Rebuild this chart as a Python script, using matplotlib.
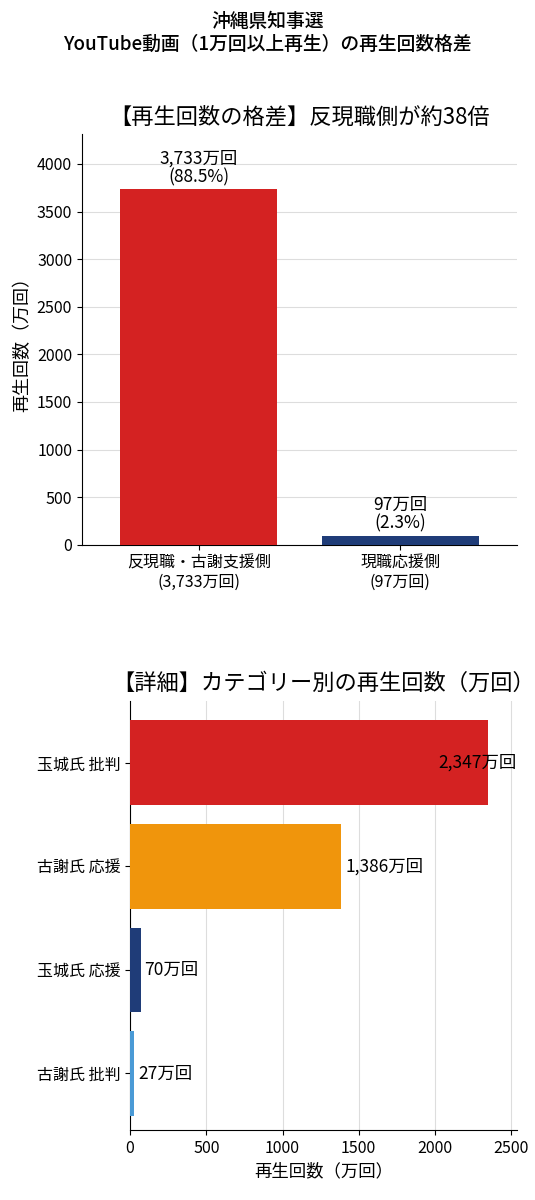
import matplotlib.pyplot as plt

plt.rcParams['font.family'] = ['Noto Sans CJK JP', 'DejaVu Sans']

# 上段データ
top_labels = ['反現職・古謝支援側\n(3,733万回)', '現職応援側\n(97万回)']
top_values = [3733, 97]
top_text = ['3,733万回\n(88.5%)', '97万回\n(2.3%)']
top_colors = ['#d42222', '#1f3c78']

# 下段データ
cat_labels = ['玉城氏 批判', '古謝氏 応援', '玉城氏 応援', '古謝氏 批判']
cat_values = [2347, 1386, 70, 27]
cat_text = ['2,347万回', '1,386万回', '70万回', '27万回']
cat_colors = ['#d42222', '#f0950c', '#1f3c78', '#4a9ad6']

fig = plt.figure(figsize=(5.35, 12), dpi=100)
fig.text(0.5, 0.99, '沖縄県知事選\nYouTube動画（1万回以上再生）の再生回数格差',
         ha='center', va='top', fontsize=13.5, linespacing=1.25, weight='medium')

ax1 = fig.add_axes([0.153, 0.546, 0.814, 0.342])
ax1.bar([0, 1], top_values, width=0.78, color=top_colors, zorder=3)
for i, (v, t) in enumerate(zip(top_values, top_text)):
    ax1.text(i, v + 30, t, ha='center', va='bottom', fontsize=12.5, linespacing=1.05)
ax1.set_ylim(0, 4310)
ax1.set_xlim(-0.58, 1.58)
ax1.set_yticks(range(0, 4001, 500))
ax1.set_xticks([0, 1])
ax1.set_xticklabels(top_labels, fontsize=13.5, linespacing=1.15)
ax1.set_ylabel('再生回数（万回）', fontsize=13)
ax1.grid(axis='y', color='#dddddd', zorder=0)
ax1.set_title('【再生回数の格差】反現職側が約38倍', fontsize=16, pad=8)
ax1.tick_params(labelsize=11.5)

ax2 = fig.add_axes([0.243, 0.058, 0.724, 0.358])
y = list(range(len(cat_values)))[::-1]
ax2.barh(y, cat_values, height=0.82, color=cat_colors, zorder=3)
for yy, v, t in zip(y, cat_values, cat_text):
    ax2.text(min(v + 25, 2020), yy, t, ha='left', va='center', fontsize=12.5, zorder=4)
ax2.set_yticks(y)
ax2.set_yticklabels(cat_labels, fontsize=13)
ax2.set_xlim(0, 2540)
ax2.set_ylim(-0.55, 3.6)
ax2.set_xticks(range(0, 2501, 500))
ax2.set_xlabel('再生回数（万回）', fontsize=12.5)
ax2.grid(axis='x', color='#dddddd', zorder=0)
ax2.set_title('【詳細】カテゴリー別の再生回数（万回）', fontsize=16, pad=8)
ax2.tick_params(labelsize=11.5)
for ax in (ax1, ax2):
    for s in ('top', 'right'):
        ax.spines[s].set_visible(False)

fig.savefig('out.png', dpi=100)
